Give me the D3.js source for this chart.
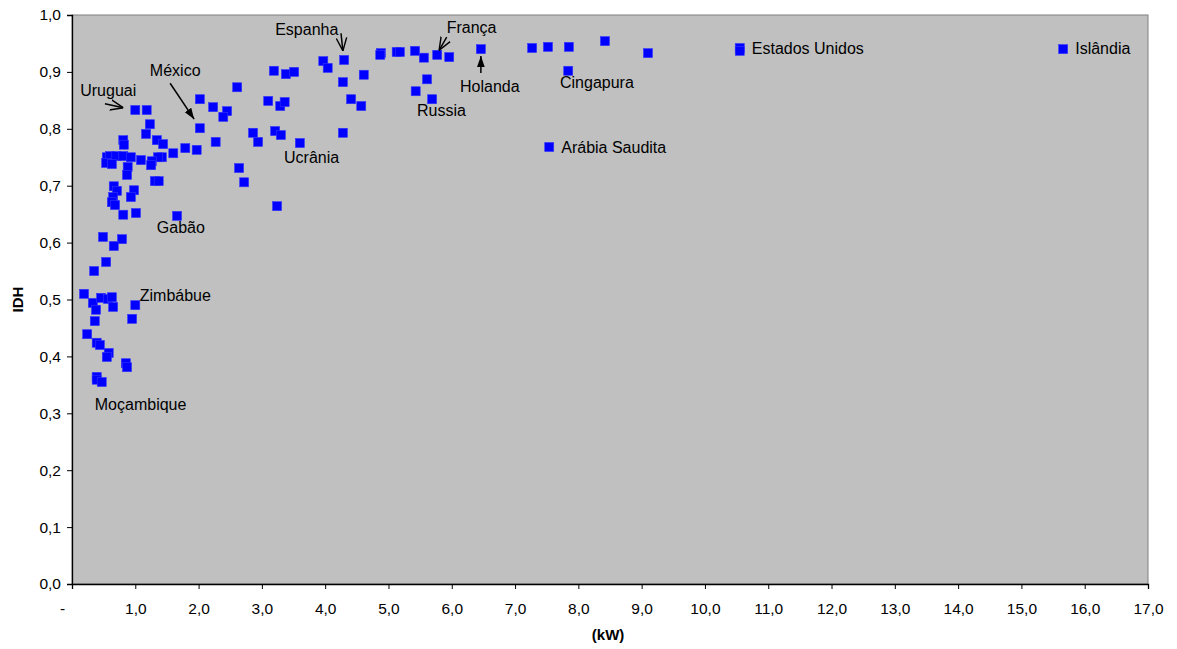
<!DOCTYPE html>
<html>
<head>
<meta charset="utf-8">
<script src="https://cdn.jsdelivr.net/npm/d3@7"></script>
<style>
  body { margin: 0; background: #fff; }
  svg text { font-family: "Liberation Sans", Arial, sans-serif; fill: #000; }
</style>
</head>
<body>
<div id="chart"></div>
<script>
// Data: potência instalada per capita (kW) x IDH
const KW = [
  0.49, 0.79, 0.66, 0.54, 0.35, 0.19, 0.33, 0.46, 0.57, 0.63, 0.65, 0.38, 1.00, 0.95, 0.36, 0.24,
  0.39, 0.44, 0.58, 0.55, 0.85, 0.87, 0.39, 0.39, 0.47,
  1.00, 1.18, 1.23, 1.17, 1.34, 1.44, 0.81, 0.82, 1.79, 1.97, 1.60, 1.42, 1.36, 1.26, 1.25, 1.09,
  0.55, 0.60, 0.70, 0.81, 0.93, 0.54, 0.63, 0.88, 0.87, 0.66, 0.71, 0.65, 0.63, 0.68, 0.98, 0.93,
  1.31, 1.37, 0.81, 1.01, 1.66,
  2.02, 2.23, 2.45, 2.39, 2.61, 2.02, 2.27, 2.64, 2.72, 2.86, 2.94, 3.19, 3.38, 3.51, 3.10, 3.29,
  3.36, 3.21, 3.30, 3.60, 3.24, 3.97, 4.04, 4.30, 4.28, 4.61, 4.41, 4.57, 4.28, 4.88, 4.87, 5.13,
  5.18, 5.42, 5.56, 5.77, 5.96, 6.46, 5.61, 5.43, 5.69, 7.27, 7.52, 7.85, 8.42, 9.10, 7.84, 7.54,
  10.55, 10.55, 15.66
];
const IDH = [
  0.610, 0.606, 0.594, 0.566, 0.550, 0.510, 0.494, 0.503, 0.501, 0.504, 0.487, 0.482, 0.490, 0.466, 0.462, 0.439,
  0.424, 0.420, 0.406, 0.399, 0.388, 0.381, 0.364, 0.359, 0.355,
  0.833, 0.833, 0.808, 0.791, 0.780, 0.773, 0.780, 0.772, 0.766, 0.763, 0.757, 0.750, 0.750, 0.743, 0.736, 0.745,
  0.750, 0.752, 0.752, 0.752, 0.750, 0.740, 0.738, 0.733, 0.719, 0.699, 0.691, 0.680, 0.671, 0.666, 0.692, 0.680,
  0.708, 0.708, 0.649, 0.652, 0.647,
  0.852, 0.838, 0.831, 0.821, 0.873, 0.801, 0.777, 0.731, 0.706, 0.793, 0.777, 0.902, 0.896, 0.900, 0.849, 0.840,
  0.847, 0.796, 0.789, 0.775, 0.664, 0.919, 0.907, 0.921, 0.882, 0.895, 0.852, 0.840, 0.793, 0.933, 0.930, 0.935,
  0.935, 0.937, 0.925, 0.930, 0.926, 0.940, 0.887, 0.866, 0.852, 0.942, 0.944, 0.944, 0.954, 0.933, 0.902, 0.768,
  0.942, 0.937, 0.940
];

// Country labels (anchor in data units)
const LABELS = ["Uruguai", "México", "Espanha", "França", "Holanda", "Russia", "Ucrânia", "Gabão",
                "Zimbábue", "Moçambique", "Cingapura", "Arábia Saudita", "Estados Unidos", "Islândia"];
const LABEL_X = [0.13, 1.23, 3.21, 5.92, 6.13, 5.45, 3.35, 1.34, 1.07, 0.36, 7.71, 7.73, 10.74, 15.85];
const LABEL_Y = [0.868, 0.903, 0.975, 0.979, 0.875, 0.833, 0.750, 0.627, 0.508, 0.315, 0.882, 0.768, 0.942, 0.942];

// Arrows: start -> end (data units), head type
const ARROW_X0 = [0.52, 1.55, 4.25, 5.92, 6.46];
const ARROW_Y0 = [0.844, 0.880, 0.968, 0.961, 0.898];
const ARROW_X1 = [0.81, 1.93, 4.28, 5.80, 6.46];
const ARROW_Y1 = [0.837, 0.817, 0.937, 0.938, 0.928];
const ARROW_HEAD = ["open", "filled", "open", "open", "filled"];

const X_TICKS = d3.range(0, 18, 1);
const Y_TICKS = d3.range(0, 1.01, 0.1);

const FRAME_WIDTH = 1177;
const FRAME_HEIGHT = 649;
const MARGINS = {left: 72, right: 29, top: 15, bottom: 65};
const VIS_WIDTH = FRAME_WIDTH - MARGINS.left - MARGINS.right;
const VIS_HEIGHT = FRAME_HEIGHT - MARGINS.top - MARGINS.bottom;

const fmt = d3.format(".1f");
const comma = (v) => fmt(v).replace(".", ",");

const svg = d3.select("#chart")
  .append("svg")
    .attr("width", FRAME_WIDTH)
    .attr("height", FRAME_HEIGHT);

const defs = svg.append("defs");
defs.append("marker")
    .attr("id", "head-filled")
    .attr("viewBox", "0 0 10 10")
    .attr("refX", 10).attr("refY", 5)
    .attr("markerWidth", 11).attr("markerHeight", 11)
    .attr("markerUnits", "userSpaceOnUse")
    .attr("orient", "auto")
  .append("path")
    .attr("d", "M0,1.5 L10,5 L0,8.5 Z")
    .attr("fill", "#000");
defs.append("marker")
    .attr("id", "head-open")
    .attr("viewBox", "0 0 10 10")
    .attr("refX", 10).attr("refY", 5)
    .attr("markerWidth", 13).attr("markerHeight", 13)
    .attr("markerUnits", "userSpaceOnUse")
    .attr("orient", "auto")
  .append("path")
    .attr("d", "M0,1 L10,5 L0,9")
    .attr("fill", "none")
    .attr("stroke", "#000")
    .attr("stroke-width", 1.1);

const X_SCALE = d3.scaleLinear().domain([0, 17]).range([0, VIS_WIDTH]);
const Y_SCALE = d3.scaleLinear().domain([0, 1]).range([VIS_HEIGHT, 0]);

const g = svg.append("g")
  .attr("transform", "translate(" + MARGINS.left + "," + MARGINS.top + ")");

// plot area
g.append("rect")
  .attr("x", 0).attr("y", 0)
  .attr("width", VIS_WIDTH).attr("height", VIS_HEIGHT)
  .attr("fill", "#c0c0c0")
  .attr("stroke", "#808080")
  .attr("stroke-width", 1);

// x axis
const xAxis = g.append("g")
  .attr("transform", "translate(0," + VIS_HEIGHT + ")")
  .call(d3.axisBottom(X_SCALE).tickValues(X_TICKS).tickSize(5).tickPadding(14)
        .tickFormat((d) => d === 0 ? "-" : comma(d)));
xAxis.selectAll("text").attr("font-size", "15.5px").attr("dx", (d) => d === 0 ? "-10px" : "0");

// y axis
const yAxis = g.append("g")
  .call(d3.axisLeft(Y_SCALE).tickValues(Y_TICKS).tickSize(5).tickPadding(6)
        .tickFormat((d) => comma(d)));
yAxis.selectAll("text").attr("font-size", "15.5px");

[xAxis, yAxis].forEach((a) => {
  a.select(".domain").attr("stroke", "#000").attr("stroke-width", 1.3);
  a.selectAll(".tick line").attr("stroke", "#000");
});

// axis titles
svg.append("text")
  .attr("x", MARGINS.left + X_SCALE(8.47))
  .attr("y", 640)
  .attr("text-anchor", "middle")
  .attr("font-size", "15px")
  .attr("font-weight", "bold")
  .text("(kW)");

svg.append("text")
  .attr("transform", "translate(23," + (MARGINS.top + Y_SCALE(0.5)) + ") rotate(-90)")
  .attr("text-anchor", "middle")
  .attr("font-size", "15px")
  .attr("font-weight", "bold")
  .text("IDH");

// points
const SIZE = 9;
g.selectAll(".point")
  .data(KW.map((k, i) => ({kw: k, idh: IDH[i]})))
  .enter()
  .append("rect")
    .attr("class", "point")
    .attr("x", (d) => X_SCALE(d.kw) - SIZE / 2)
    .attr("y", (d) => Y_SCALE(d.idh) - SIZE / 2)
    .attr("width", SIZE)
    .attr("height", SIZE)
    .attr("fill", "#0000ff")
    .attr("stroke", "#3333ff")
    .attr("stroke-width", 0.6);

// arrows
g.selectAll(".arrow")
  .data(ARROW_X0.map((x0, i) => ({x0: x0, y0: ARROW_Y0[i], x1: ARROW_X1[i], y1: ARROW_Y1[i], head: ARROW_HEAD[i]})))
  .enter()
  .append("line")
    .attr("class", "arrow")
    .attr("x1", (d) => X_SCALE(d.x0))
    .attr("y1", (d) => Y_SCALE(d.y0))
    .attr("x2", (d) => X_SCALE(d.x1))
    .attr("y2", (d) => Y_SCALE(d.y1))
    .attr("stroke", "#000")
    .attr("stroke-width", 1.5)
    .attr("marker-end", (d) => "url(#head-" + d.head + ")");

// labels
g.selectAll(".label")
  .data(LABELS.map((t, i) => ({t: t, x: LABEL_X[i], y: LABEL_Y[i]})))
  .enter()
  .append("text")
    .attr("class", "label")
    .attr("x", (d) => X_SCALE(d.x))
    .attr("y", (d) => Y_SCALE(d.y))
    .attr("dy", "0.35em")
    .attr("font-size", "16px")
    .text((d) => d.t);
</script>
</body>
</html>
